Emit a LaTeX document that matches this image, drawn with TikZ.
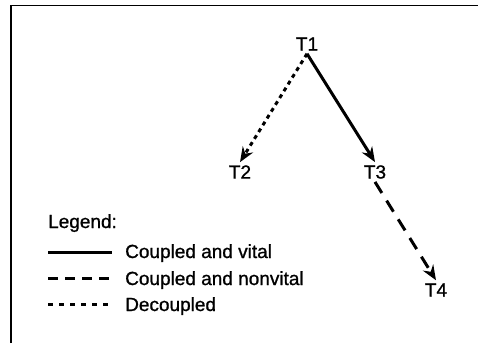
\documentclass[tikz,border=0pt]{standalone}
\usepackage{fontspec}
\setmainfont{Liberation Sans}[BoldFont={Liberation Sans}, BoldFeatures={FakeBold=1}]
\usetikzlibrary{arrows.meta}
\begin{document}
\begin{tikzpicture}[x=1pt,y=-1pt,
  lbl/.style={font=\fontsize{19}{22}\selectfont\bfseries, inner sep=3pt},
  legtxt/.style={font=\fontsize{19}{22}\selectfont\bfseries, inner sep=0pt, anchor=base west},
  conn/.style={line width=3pt, -{Stealth[length=15pt,width=12pt,inset=5pt]}},
  vital/.style={conn},
  nonvital/.style={conn, dash pattern=on 13pt off 9pt},
  decoupled/.style={conn, dash pattern=on 4pt off 4pt},
  legline/.style={line width=3pt}
]
\useasboundingbox (0,0) rectangle (478,343);
% frame
\draw[line width=1.5pt] (11,343) -- (11,5.5) -- (478,5.5);

\node[lbl] (T1) at (307,44) {T1};
\node[lbl] (T2) at (240,172) {T2};
\node[lbl] (T3) at (375,172) {T3};
\node[lbl] (T4) at (436,290) {T4};

\draw[decoupled] (T1.south) -- (T2.north);
\draw[vital] (T1.south) -- (T3.north);
\draw[nonvital] (T3.south) -- (T4.north);

% legend
\node[legtxt] (leg) at (48,228) {Legend:};
\coordinate (s1) at (48,252); \coordinate (e1) at (112,252);
\coordinate (s2) at (48,278); \coordinate (e2) at (112,278);
\coordinate (s3) at (48,304.5); \coordinate (e3) at (112,304.5);
\draw[legline] (s1) -- (e1);
\draw[legline, dash pattern=on 10pt off 7pt] (s2) -- (e2);
\draw[legline, line width=2.2pt, dash pattern=on 5pt off 6pt] (s3) -- (e3);
\node[legtxt] (l1) at (125,258) {Coupled and vital};
\node[legtxt] (l2) at (125,285) {Coupled and nonvital};
\node[legtxt] (l3) at (125,311) {Decoupled};
\end{tikzpicture}
\end{document}
